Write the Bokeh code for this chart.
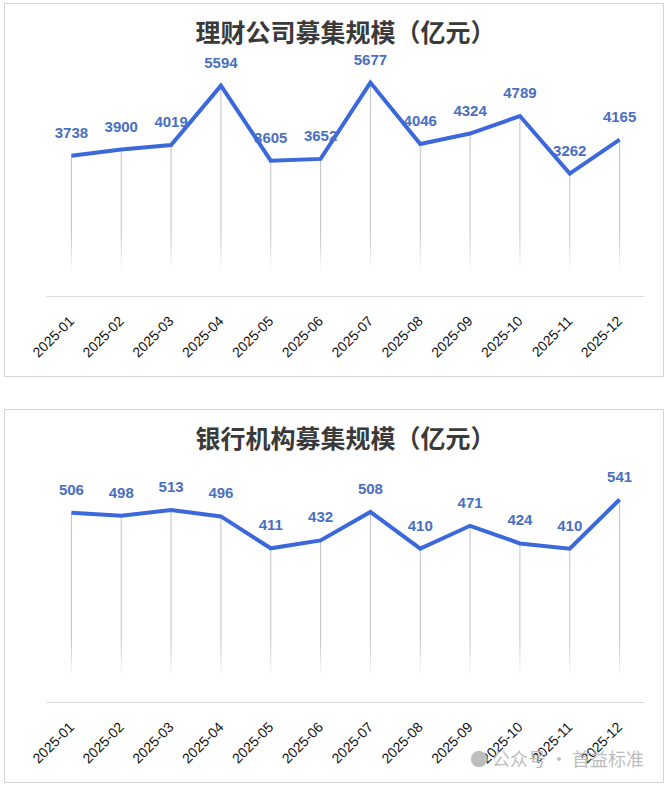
import math
from bokeh.plotting import figure
from bokeh.layouts import column
from bokeh.models import ColumnDataSource, Div
from bokeh.core.properties import value
from bokeh.embed import file_html
from bokeh.resources import INLINE

months = ["2025-01", "2025-02", "2025-03", "2025-04", "2025-05", "2025-06",
          "2025-07", "2025-08", "2025-09", "2025-10", "2025-11", "2025-12"]
wealth_values = [3738, 3900, 4019, 5594, 3605, 3652, 5677, 4046, 4324, 4789, 3262, 4165]
bank_values = [506, 498, 513, 496, 411, 432, 508, 410, 471, 424, 410, 541]
title_wealth = "理财公司募集规模（亿元）"
title_bank = "银行机构募集规模（亿元）"
watermark = "● 公众号 · 首益标准"

LINE_COLOR = "#3b69dc"
LABEL_COLOR = "#4a6fc2"


def make_chart(title, vals, ymax):
    p = figure(x_range=months, y_range=(0, ymax), width=660, height=374,
               output_backend="svg", toolbar_location=None,
               min_border_left=41, min_border_right=21,
               min_border_top=50, min_border_bottom=82,
               title=title)
    p.styles = {"border": "1px solid #d4d4d4", "box-sizing": "border-box"}
    p.title.align = "center"
    p.title.text_font = "Noto Sans CJK SC"
    p.title.text_font_size = "25px"
    p.title.text_font_style = "bold"
    p.title.text_color = "#3a3a3a"
    p.title.standoff = 11
    p.outline_line_color = None
    p.xgrid.visible = False
    p.ygrid.visible = False
    p.yaxis.visible = False
    p.xaxis.axis_line_color = "#d9d9d9"
    p.xaxis.major_tick_line_color = None
    p.xaxis.minor_tick_line_color = None
    p.xaxis.major_label_orientation = math.pi / 4
    p.xaxis.major_label_standoff = 16
    p.xaxis.major_label_text_font = "Liberation Sans"
    p.xaxis.major_label_text_font_size = "14px"
    p.xaxis.major_label_text_color = "#111111"

    # drop lines with a fading lower part
    xs, y0s, y1s, alphas = [], [], [], []
    solid_base = 0.25 * ymax
    fade_end = 0.105 * ymax
    n = 6
    for m, v in zip(months, vals):
        xs.append(m); y0s.append(v); y1s.append(solid_base); alphas.append(1.0)
        for k in range(n):
            top = solid_base - (solid_base - fade_end) * k / n
            bot = solid_base - (solid_base - fade_end) * (k + 1) / n
            xs.append(m); y0s.append(top); y1s.append(bot)
            alphas.append(1.0 - (k + 0.5) / n)
    drop = ColumnDataSource(dict(x=xs, y0=y0s, y1=y1s, a=alphas))
    p.segment(x0="x", y0="y0", x1="x", y1="y1", source=drop,
              line_color="#c2c2c2", line_width=1, line_alpha="a")

    src = ColumnDataSource(dict(m=months, v=vals, lab=[str(v) for v in vals]))
    p.line(x="m", y="v", source=src, line_color=LINE_COLOR, line_width=4,
           line_join="miter")
    p.text(x="m", y="v", text="lab", source=src, y_offset=-23,
           text_align="center", text_baseline="middle",
           text_font=value("Liberation Sans"), text_font_size="15px",
           text_font_style="bold", text_color=LABEL_COLOR)
    return p


p1 = make_chart(title_wealth, wealth_values, 6422)
p2 = make_chart(title_bank, bank_values, 645)

wm = Div(text=watermark, width=190, height=26, margin=(-70, 0, 0, 466),
         styles={"font-family": "Noto Sans CJK SC", "font-size": "18px",
                 "color": "#bdbdbd", "white-space": "nowrap",
                 "line-height": "26px"})

layout = column(p1, p2, wm, spacing=32)
layout.styles = {"margin-left": "4px", "margin-top": "3px"}

open("out.html", "w").write(file_html(layout, INLINE))
